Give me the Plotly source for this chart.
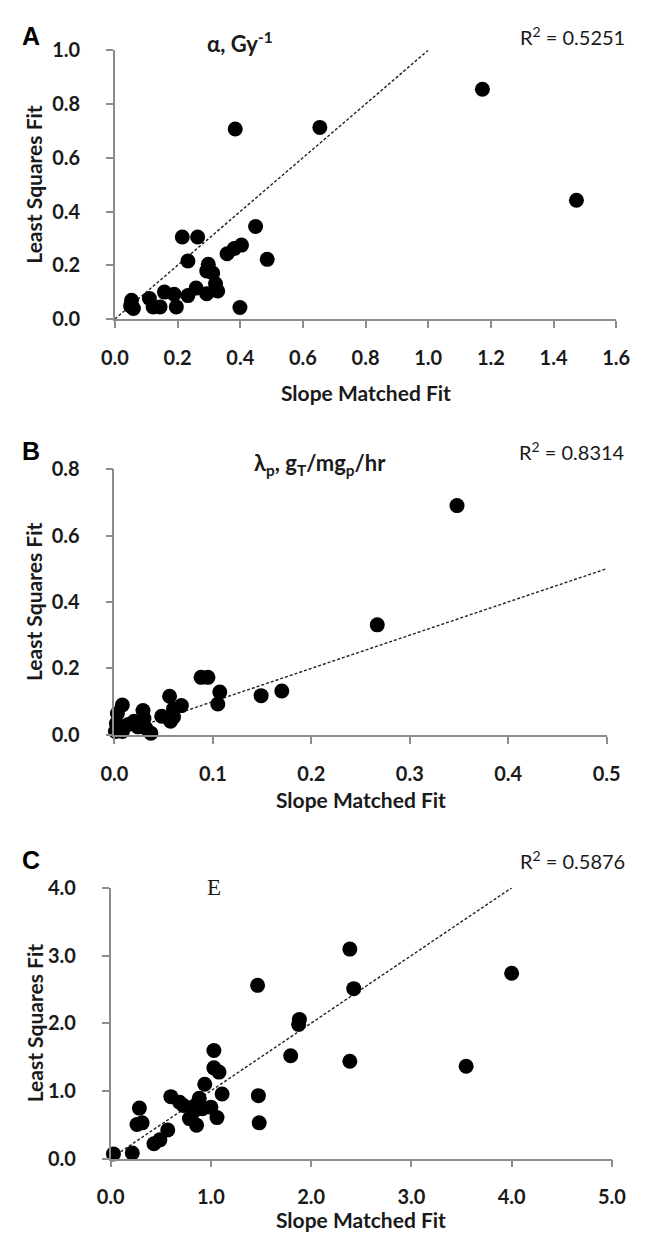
import plotly.graph_objects as go

W, H = 646, 1247

# ---------------- data ----------------
# Panel A: alpha, Gy^-1
xA = [1.173, 1.473, 0.654, 0.384, 0.449, 0.215, 0.264, 0.233, 0.486, 0.404,
      0.381, 0.358, 0.298, 0.293, 0.312, 0.321, 0.328, 0.293, 0.259, 0.233,
      0.196, 0.189, 0.158, 0.144, 0.122, 0.110, 0.053, 0.050, 0.059, 0.399]
yA = [0.855, 0.442, 0.713, 0.707, 0.344, 0.305, 0.305, 0.216, 0.222, 0.275,
      0.262, 0.243, 0.204, 0.179, 0.171, 0.131, 0.104, 0.094, 0.115, 0.087,
      0.045, 0.092, 0.100, 0.045, 0.045, 0.076, 0.070, 0.049, 0.039, 0.043]
lineA_x = [0.0, 1.0]
lineA_y = [0.0, 1.0]

# Panel B: lambda_p
xB = [0.348, 0.267, 0.170, 0.149, 0.107, 0.105, 0.095, 0.088, 0.068, 0.060,
      0.056, 0.060, 0.057, 0.048, 0.029, 0.030, 0.028, 0.037, 0.032, 0.020,
      0.014, 0.008, 0.003, 0.002, 0.001, 0.008, 0.005, 0.024]
yB = [0.690, 0.331, 0.132, 0.118, 0.129, 0.093, 0.173, 0.173, 0.088, 0.078,
      0.116, 0.054, 0.041, 0.056, 0.073, 0.049, 0.029, 0.005, 0.020, 0.041,
      0.031, 0.090, 0.064, 0.034, 0.010, 0.010, 0.020, 0.024]
lineB_x = [0.0, 0.5]
lineB_y = [0.0, 0.5]

# Panel C: E
xC = [2.386, 4.000, 2.425, 1.466, 1.883, 1.875, 1.796, 2.386, 3.546, 1.030,
      1.030, 1.081, 1.112, 0.939, 1.474, 1.482, 1.061, 1.000, 0.884, 0.845,
      0.825, 0.857, 0.786, 0.727, 0.688, 0.601, 0.570, 0.491, 0.432, 0.287,
      0.263, 0.314, 0.216, 0.028, 0.916]
yC = [3.095, 2.738, 2.510, 2.559, 2.056, 1.983, 1.519, 1.437, 1.364, 1.596,
      1.340, 1.277, 0.953, 1.098, 0.929, 0.527, 0.605, 0.759, 0.890, 0.784,
      0.687, 0.493, 0.590, 0.784, 0.832, 0.914, 0.421, 0.276, 0.218, 0.745,
      0.503, 0.527, 0.082, 0.068, 0.735]
lineC_x = [0.1, 4.0]
lineC_y = [0.1, 4.0]

panels = [
    dict(x=xA, y=yA, lx=lineA_x, ly=lineA_y, xr=[0, 1.6], xd=0.2, yr=[0, 1.0], yd=0.2,
         px=(105.5, 629.5), py=(38, 312), letter="A", r2="R<sup>2</sup> = 0.5251",
         title="α, Gy<sup>-1</sup>", tx=236, tdy=8, ldy=15, xtdy=75,
         tfont="Lato", tbold=True),
    dict(x=xB, y=yB, lx=lineB_x, ly=lineB_y, xr=[0, 0.5], xd=0.1, yr=[0, 0.8], yd=0.2,
         px=(105, 619.5), py=(465, 736), letter="B", r2="R<sup>2</sup> = 0.8314",
         title="λ<sub>p</sub>, g<sub>T</sub>/mg<sub>p</sub>/hr", tx=320, tdy=5, ldy=18,
         xtdy=66, tfont="Lato", tbold=True),
    dict(x=xC, y=yC, lx=lineC_x, ly=lineC_y, xr=[0, 5.0], xd=1.0, yr=[0, 4.0], yd=1.0,
         px=(101, 625), py=(892, 1168), letter="C", r2="R<sup>2</sup> = 0.5876",
         title="E", tx=209, tdy=0, ldy=28, xtdy=62,
         tfont="Liberation Serif", tbold=False),
]

fig = go.Figure()
AX = "#8c8c8c"
TXT = "#1a1a1a"
annotations = []

for i, p in enumerate(panels):
    n = "" if i == 0 else str(i + 1)
    xa, ya = "x" + n, "y" + n
    fig.add_trace(go.Scatter(x=p["lx"], y=p["ly"], mode="lines", xaxis=xa, yaxis=ya,
                             line=dict(color="#222222", width=1.4, dash="3px,2px"),
                             showlegend=False, hoverinfo="skip"))
    fig.add_trace(go.Scatter(x=p["x"], y=p["y"], mode="markers", xaxis=xa, yaxis=ya,
                             marker=dict(color="black", size=15),
                             cliponaxis=False, showlegend=False))
    x0, x1 = p["px"]
    y0, y1 = p["py"]
    axcommon = dict(showline=True, linecolor=AX, linewidth=1.5, ticks="outside",
                    tickcolor=AX, tickwidth=1.5, ticklen=7, showgrid=False,
                    zeroline=False, tickformat=".1f",
                    tickfont=dict(family="Lato", size=20, color=TXT, weight="bold"))
    fig.layout["xaxis" + n] = dict(axcommon, domain=[x0 / W, x1 / W], range=p["xr"],
                                   dtick=p["xd"], tick0=0, anchor=ya, ticklabelstandoff=13)
    fig.layout["yaxis" + n] = dict(axcommon, domain=[1 - y1 / H, 1 - y0 / H], range=p["yr"],
                                   dtick=p["yd"], tick0=0, anchor=xa, ticklabelstandoff=22)
    # panel letter
    annotations.append(dict(x=6 / W, y=1 - (y0 - p["ldy"]) / H, xref="paper", yref="paper",
                            text="<b>" + p["letter"] + "</b>", showarrow=False,
                            xanchor="left", yanchor="middle",
                            font=dict(family="Liberation Sans", size=25, color="black")))
    # R^2
    annotations.append(dict(x=641 / W, y=1 - (y0 - p["ldy"]) / H, xref="paper", yref="paper",
                            text=p["r2"], showarrow=False, xanchor="right", yanchor="middle",
                            font=dict(family="Lato", size=20, color=TXT)))
    # title
    ttxt = "<b>" + p["title"] + "</b>" if p["tbold"] else p["title"]
    annotations.append(dict(x=p["tx"] / W, y=1 - (y0 - p["tdy"]) / H, xref="paper", yref="paper",
                            text=ttxt, showarrow=False, xanchor="center", yanchor="middle",
                            font=dict(family=p["tfont"], size=23 if not p["tbold"] else 22,
                                      color=TXT)))
    # x title
    annotations.append(dict(x=(x0 + x1) / 2 / W, y=1 - (y1 + p["xtdy"]) / H, xref="paper",
                            yref="paper", text="<b>Slope Matched Fit</b>", showarrow=False,
                            xanchor="center", yanchor="middle",
                            font=dict(family="Lato", size=21, color=TXT)))
    # y title
    annotations.append(dict(x=21 / W, y=1 - (y0 + y1) / 2 / H, xref="paper", yref="paper",
                            text="<b>Least Squares Fit</b>", showarrow=False, textangle=-90,
                            xanchor="center", yanchor="middle",
                            font=dict(family="Lato", size=21, color=TXT)))

fig.update_layout(width=W, height=H, margin=dict(l=0, r=0, t=0, b=0),
                  paper_bgcolor="white", plot_bgcolor="white",
                  annotations=annotations, showlegend=False)

fig.write_html("out.html")
